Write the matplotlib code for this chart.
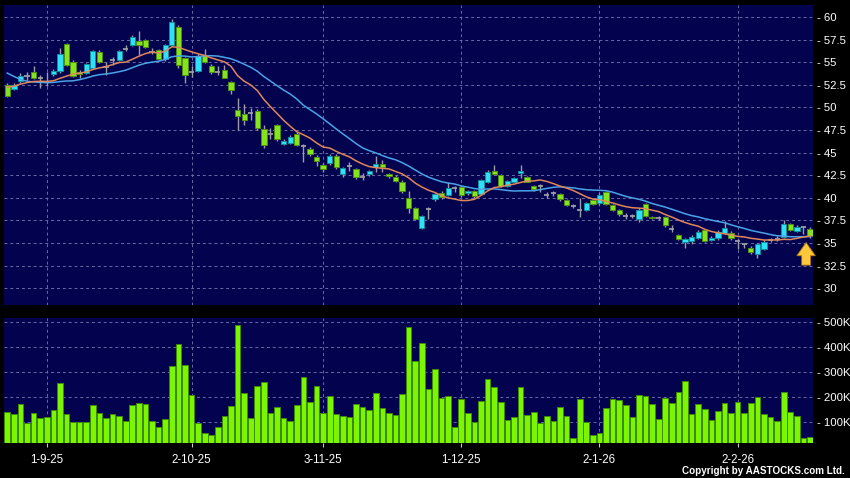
import numpy as np
import pandas as pd
import matplotlib
matplotlib.use("Agg")
import matplotlib.pyplot as plt
from matplotlib.patches import Rectangle

plt.rcParams['font.family'] = ['Liberation Sans', 'DejaVu Sans']

# ---------------- data ----------------
opens = [52.5, 52.0, 52.95, 53.5, 53.9, 53.2, 52.85, 53.65, 54.05, 57.0,
         55.05, 53.95, 53.85, 54.4, 56.1, 54.5, 55.2, 55.3, 56.45, 56.9,
         57.3, 57.45, 56.15, 56.3, 55.4, 56.9, 58.9, 55.5, 53.95, 54.05,
         55.8, 54.6, 53.95, 54.1, 52.8, 49.7, 49.25, 49.4, 49.6, 47.6,
         47.05, 48.1, 46.0, 46.1, 47.1, 45.75, 45.4, 44.55, 43.6, 43.8,
         44.65, 42.6, 43.5, 43.15, 42.35, 42.6, 43.45, 43.7, 42.6, 42.35,
         41.8, 39.95, 38.85, 36.7, 38.8, 39.85, 40.55, 40.3, 41.1, 41.25,
         40.55, 40.75, 40.4, 41.7, 42.95, 42.5, 41.35, 41.8, 42.7, 42.25,
         41.3, 41.3, 40.3, 40.5, 40.4, 39.75, 39.1, 38.65, 38.6, 39.75,
         39.4, 40.6, 39.2, 38.7, 38.0, 38.0, 37.7, 39.3, 37.9, 37.8,
         37.9, 36.55, 35.9, 35.15, 35.25, 35.6, 36.45, 35.35, 35.5, 36.15,
         36.15, 35.2, 34.85, 34.5, 33.75, 34.3, 35.35, 35.45, 35.7, 37.05,
         36.3, 36.8, 36.6]
highs = [52.7, 52.75, 53.85, 53.9, 54.6, 53.6, 53.9, 54.2, 56.6, 57.1,
         55.2, 54.1, 54.9, 56.3, 56.3, 55.0, 55.6, 56.35, 56.9, 58.0,
         58.5, 57.6, 56.6, 56.5, 57.0, 59.75, 59.1, 55.6, 54.6, 55.9,
         56.5, 54.8, 54.6, 54.7, 52.9, 51.0, 50.4, 49.9, 49.8, 48.0,
         47.7, 48.2, 46.45, 46.9, 47.3, 46.0, 45.6, 44.7, 43.8, 44.9,
         44.8, 43.4, 44.0, 43.3, 42.7, 43.1, 44.6, 44.2, 42.75, 42.5,
         41.95, 40.8, 39.0, 38.1, 38.95, 40.5, 40.7, 41.7, 41.3, 41.4,
         40.9, 40.9, 42.1, 43.1, 43.6, 42.6, 41.95, 42.3, 43.6, 42.4,
         41.4, 41.5, 40.6, 40.7, 40.5, 39.9, 39.3, 40.0, 39.5, 39.9,
         40.5, 40.8, 39.3, 38.8, 38.3, 38.2, 38.9, 39.45, 38.0, 38.0,
         38.0, 37.0, 36.0, 35.6, 35.85, 36.45, 36.6, 35.75, 36.4, 37.45,
         36.3, 35.4, 35.0, 34.7, 35.0, 35.3, 35.6, 35.8, 37.5, 37.25,
         36.95, 36.9, 36.75]
lows = [51.1, 51.9, 52.75, 53.0, 53.1, 52.1, 52.4, 53.5, 53.8, 54.6,
        53.4, 53.3, 53.7, 54.3, 54.9, 53.6, 54.7, 55.1, 56.2, 56.8,
        55.8, 56.6, 55.9, 55.2, 55.1, 56.8, 54.4, 52.7, 53.4, 53.9,
        54.9, 53.7, 53.6, 53.2, 51.5, 47.5, 48.0, 48.6, 47.5, 45.5,
        46.5, 46.3, 45.8, 45.9, 45.7, 44.0, 44.6, 43.5, 42.9, 43.6,
        43.2, 42.3, 43.0, 42.1, 42.0, 42.4, 42.9, 42.9, 42.2, 41.7,
        40.5, 38.3, 37.5, 36.5, 37.6, 39.6, 39.9, 40.2, 40.6, 40.1,
        40.3, 40.0, 40.3, 41.6, 42.5, 41.2, 41.2, 41.7, 42.2, 41.7,
        40.8, 40.6, 40.0, 40.2, 39.7, 39.1, 38.9, 37.9, 38.5, 39.2,
        39.2, 39.2, 38.5, 38.0, 37.6, 37.8, 37.35, 37.9, 37.6, 37.5,
        36.8, 36.25, 35.3, 34.5, 34.9, 35.4, 35.1, 35.2, 35.3, 36.0,
        35.3, 34.3, 34.4, 33.8, 33.3, 34.2, 35.1, 35.2, 35.6, 36.3,
        36.2, 36.0, 35.55]
closes = [51.3, 52.5, 53.5, 53.5, 53.2, 53.2, 52.85, 54.0, 55.9, 54.7,
          53.5, 53.65, 54.75, 56.2, 55.0, 54.5, 55.2, 56.2, 56.45, 57.8,
          56.85, 56.7, 56.15, 55.4, 56.9, 59.4, 54.7, 53.6, 53.95, 55.7,
          55.0, 53.95, 53.95, 53.3, 51.9, 49.1, 48.6, 49.4, 47.7, 45.85,
          47.05, 46.5, 46.3, 46.75, 45.85, 45.75, 44.9, 44.1, 43.15, 44.65,
          43.4, 43.25, 43.5, 42.3, 42.35, 42.95, 43.7, 43.45, 42.4, 41.9,
          40.7, 38.85, 37.65, 38.0, 38.8, 40.4, 40.1, 41.05, 41.1, 40.3,
          40.75, 40.2, 41.95, 42.9, 42.6, 41.3, 41.85, 42.15, 42.95, 41.8,
          40.95, 41.3, 40.3, 40.5, 39.85, 39.2, 39.1, 38.65, 39.4, 39.35,
          40.3, 39.3, 38.7, 38.2, 38.0, 38.0, 38.7, 38.0, 37.75, 37.8,
          37.0, 36.55, 35.45, 35.45, 35.7, 36.25, 35.2, 35.6, 36.25, 36.7,
          35.5, 35.2, 34.85, 33.95, 34.85, 35.15, 35.35, 35.45, 37.05, 36.45,
          36.8, 36.8, 35.75]
# volume in thousands of shares
volumes = [143, 133, 173, 96, 139, 119, 121, 148, 256, 132,
           103, 103, 101, 171, 139, 117, 133, 124, 104, 169,
           179, 172, 105, 81, 115, 327, 415, 329, 209, 97,
           59, 49, 81, 124, 165, 489, 217, 116, 247, 263,
           137, 161, 119, 105, 168, 280, 181, 244, 137, 207,
           133, 125, 120, 172, 161, 151, 217, 156, 136, 129,
           212, 480, 347, 416, 233, 315, 197, 205, 83, 192,
           136, 103, 184, 272, 240, 180, 109, 120, 240, 129,
           143, 97, 125, 105, 163, 124, 39, 193, 103, 49,
           56, 156, 193, 188, 169, 120, 211, 205, 172, 113,
           196, 179, 221, 265, 132, 175, 153, 109, 147, 179,
           139, 181, 139, 177, 200, 132, 121, 105, 220, 140,
           125, 37, 41]
# closes before the visible window (off-chart, estimated from the MA lines)
prior_closes = [60.0, 60.0, 57.5, 55.0, 54.0, 53.5, 53.5, 54.0, 53.5, 53.0,
                51.0, 51.2, 51.8, 52.0, 53.0, 53.0, 53.3, 53.2, 52.2]
date_labels = ['1-9-25', '2-10-25', '3-11-25', '1-12-25', '2-1-26', '2-2-26']
date_pos = [6, 28, 48, 69, 90, 111]
price_ticks = [30, 32.5, 35, 37.5, 40, 42.5, 45, 47.5, 50, 52.5, 55, 57.5, 60]
vol_ticks = [100, 200, 300, 400, 500]
vol_labels = ['100K', '200K', '300K', '400K', '500K']

# ---------------- style ----------------
BG = '#000000'
PANEL = '#02024F'
GRID = '#6A6AA6'
UP = '#2FE0F6'
UP_EDGE = '#138E9E'
DN = '#86E41E'
DN_EDGE = '#4E8E10'
WICK = '#9C9CA4'
VOL = '#7CF500'
VOL_EDGE = '#3D8A00'
MA10_C = '#E0875A'
MA20_C = '#4AA3E6'

n = len(closes)
x = np.arange(n)
all_c = pd.Series(prior_closes + closes)
ma10 = all_c.rolling(10).mean().iloc[len(prior_closes):].to_numpy()
ma20 = all_c.rolling(20).mean().iloc[len(prior_closes):].to_numpy()

W, H = 850, 478
fig = plt.figure(figsize=(W / 100, H / 100), dpi=100, facecolor=BG)

def px_axes(l, t, r, b):
    return fig.add_axes([l / W, 1 - b / H, (r - l) / W, (b - t) / H])

axp = px_axes(4, 5, 813, 305)
axv = px_axes(4, 318, 813, 443.3)

xlim = (-0.5, 122.45)
for ax in (axp, axv):
    ax.set_facecolor(PANEL)
    for s in ax.spines.values():
        s.set_visible(False)
    ax.set_xlim(*xlim)
    ax.yaxis.tick_right()
    ax.tick_params(axis='y', length=0, pad=3, labelsize=8.2, colors='white')
    for p in date_pos:
        ax.axvline(p, color=GRID, lw=0.7, ls=(0, (3, 3)), zorder=0.5)

# price panel
axp.set_ylim(28.14, 61.33)
axp.set_yticks(price_ticks)
axp.set_yticklabels(['- ' + ('%g' % v) for v in price_ticks])
axp.set_xticks([])
for v in price_ticks:
    axp.axhline(v, color=GRID, lw=0.7, ls=(0, (3, 3)), zorder=0.5)

bw = 0.8
for i in range(n):
    o, h, l, c = opens[i], highs[i], lows[i], closes[i]
    axp.vlines(x[i], l, h, color=WICK, lw=1.0, zorder=2)
    if c == o:
        axp.hlines(c, x[i] - bw / 2, x[i] + bw / 2, color=WICK, lw=1.3, zorder=3)
    else:
        fc, ec = (UP, UP_EDGE) if c > o else (DN, DN_EDGE)
        axp.add_patch(Rectangle((x[i] - bw / 2, min(o, c)), bw, abs(c - o),
                                facecolor=fc, edgecolor=ec, lw=0.7, zorder=3))

axp.plot(x, ma20, color=MA20_C, lw=1.1, zorder=4)
axp.plot(x, ma10, color=MA10_C, lw=1.1, zorder=4)

# marker arrow under the last candle
xa = x[-1] - 0.6
axp.annotate('', xy=(xa, lows[-1] - 0.5), xytext=(xa, lows[-1] - 3.0),
             arrowprops=dict(arrowstyle='simple,head_length=0.5,head_width=0.7,tail_width=0.33',
                             fc='#FFC83A', ec='#B07A10', lw=0.6, mutation_scale=19,
                             shrinkA=0, shrinkB=0),
             zorder=6)

# volume panel
axv.set_ylim(16, 517)
axv.set_yticks(vol_ticks)
axv.set_yticklabels(['- ' + s for s in vol_labels])
for v in vol_ticks:
    axv.axhline(v, color=GRID, lw=0.7, ls=(0, (3, 3)), zorder=0.5)
axv.bar(x, volumes, width=0.86, color=VOL, edgecolor=VOL_EDGE, lw=0.7, zorder=2)
axv.set_xticks(date_pos)
axv.set_xticklabels(date_labels)
axv.tick_params(axis='x', length=3, width=0.8, color='#C8C8C8', pad=5,
                labelsize=8.3, labelcolor='white')

fig.text(845 / W, 1 - 476 / H, 'Copyright by AASTOCKS.com Ltd.', ha='right', va='bottom',
         color='white', fontsize=7.1, fontweight='bold')

fig.savefig('out.png', dpi=100, facecolor=BG)
